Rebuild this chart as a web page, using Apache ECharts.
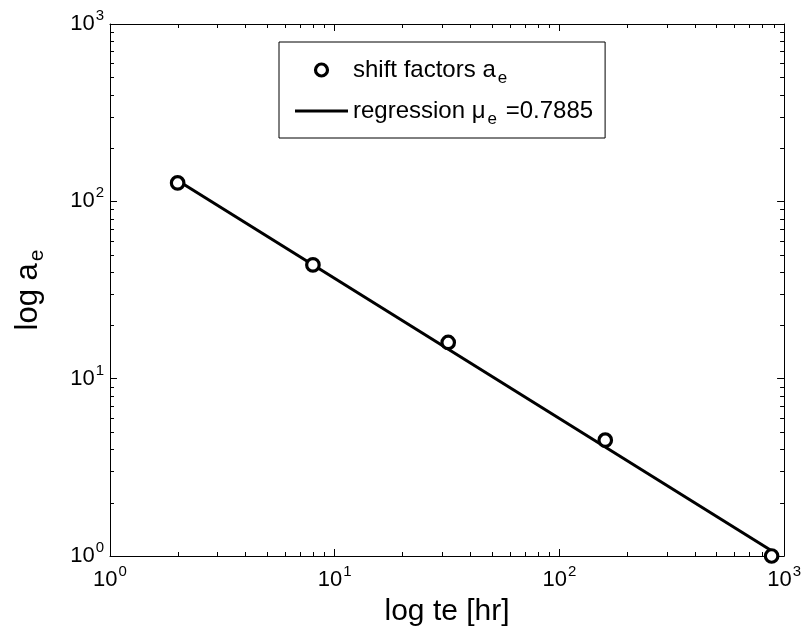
<!DOCTYPE html>
<html>
<head>
<meta charset="utf-8">
<script src="https://cdn.jsdelivr.net/npm/echarts@6/dist/echarts.min.js"></script>
<style>
html,body{margin:0;padding:0;background:#fff;}
#chart{width:804px;height:635px;}
</style>
</head>
<body>
<div id="chart"></div>
<script>
// ---- data ----
const teHours = [2, 8, 32, 160, 880];
const shiftFactors = [127, 43.8, 16.0, 4.5, 1.0];
const regressionX = [2, 880];
const regressionY = [131, 1.07];
const muE = '0.7885';
const xMinorTicks = [2,3,4,5,6,7,8,9,20,30,40,50,60,70,80,90,200,300,400,500,600,700,800,900];
const yMinorTicks = [2,3,4,5,6,7,8,9,20,30,40,50,60,70,80,90,200,300,400,500,600,700,800,900];
const axisMin = 1, axisMax = 1000;

const FONT = '"Liberation Sans", Arial, Helvetica, sans-serif';
const chart = echarts.init(document.getElementById('chart'), null, {renderer: 'canvas'});

const tickRich = {
  b: {fontSize: 22, fontFamily: FONT, color: '#000'},
  s: {fontSize: 15, fontFamily: FONT, color: '#000', padding: [0, 0, 16, 1]}
};
function powLabel(v) {
  const e = Math.round(Math.log10(v));
  return '{b|10}{s|' + e + '}';
}

function minorTickSeries(values, isX) {
  return {
    type: 'custom',
    silent: true,
    clip: false,
    legendHoverLink: false,
    data: values.map(v => [v]),
    renderItem: function (params, api) {
      const cs = params.coordSys;
      const v = api.value(0);
      const len = 4;
      const style = {stroke: '#000', lineWidth: 1};
      if (isX) {
        const px = Math.round(api.coord([v, 1])[0]) + 0.5;
        return {type: 'group', children: [
          {type: 'line', shape: {x1: px, y1: cs.y + cs.height, x2: px, y2: cs.y + cs.height - len}, style: style},
          {type: 'line', shape: {x1: px, y1: cs.y, x2: px, y2: cs.y + len}, style: style}
        ]};
      } else {
        const py = Math.round(api.coord([1, v])[1]) + 0.5;
        return {type: 'group', children: [
          {type: 'line', shape: {x1: cs.x, y1: py, x2: cs.x + len, y2: py}, style: style},
          {type: 'line', shape: {x1: cs.x + cs.width, y1: py, x2: cs.x + cs.width - len, y2: py}, style: style}
        ]};
      }
    }
  };
}

const axisCommon = {
  type: 'log',
  logBase: 10,
  min: axisMin,
  max: axisMax,
  interval: 1,
  splitLine: {show: false},
  axisLine: {show: true, onZero: false, lineStyle: {color: '#000', width: 1}},
  axisTick: {show: true, inside: true, length: 7, lineStyle: {color: '#000', width: 1}}
};

const option = {
  backgroundColor: '#fff',
  animation: false,
  grid: {left: 107, right: 18, top: 24, bottom: 79, containLabel: false},
  legend: {
    left: 279,
    top: 42,
    orient: 'vertical',
    backgroundColor: '#fff',
    borderColor: '#000',
    borderWidth: 1,
    borderRadius: 0,
    padding: [11, 12, 10, 16],
    itemGap: 7,
    itemWidth: 53,
    itemHeight: 12,
    data: [
      {name: 'shift', icon: 'circle', itemStyle: {color: '#fff', borderColor: '#000', borderWidth: 3.2}},
      {name: 'regression', icon: 'path://M0 0H100V5.6H0Z', itemStyle: {color: '#000', borderWidth: 0}}
    ],
    formatter: function (name) {
      return name === 'shift' ? 'shift factors a{sub|e}' : 'regression \u03bc{sub|e} =' + muE;
    },
    textStyle: {
      fontSize: 24, fontFamily: FONT, color: '#000', lineHeight: 34,
      rich: {sub: {fontSize: 17, fontFamily: FONT, color: '#000', lineHeight: 14, verticalAlign: 'bottom', padding: [0, 2, 0, 2]}}
    }
  },
  xAxis: [
    Object.assign({}, axisCommon, {
      position: 'bottom',
      name: 'log te [hr]',
      nameLocation: 'middle',
      nameGap: 41,
      nameTextStyle: {fontSize: 30, fontFamily: FONT, color: '#000'},
      axisLabel: {margin: 8, formatter: powLabel, rich: tickRich}
    }),
    Object.assign({}, axisCommon, {position: 'top', axisLabel: {show: false}})
  ],
  yAxis: [
    Object.assign({}, axisCommon, {
      position: 'left',
      name: 'log a{sub|e}',
      nameLocation: 'middle',
      nameGap: 62,
      nameRotate: 90,
      nameTextStyle: {fontSize: 31, fontFamily: FONT, color: '#000', lineHeight: 40,
        rich: {sub: {fontSize: 21, fontFamily: FONT, color: '#000', lineHeight: 14, verticalAlign: 'bottom', padding: [0, 0, 0, 2]}}},
      axisLabel: {margin: 6, formatter: powLabel, rich: tickRich}
    }),
    Object.assign({}, axisCommon, {position: 'right', axisLabel: {show: false}})
  ],
  series: [
    {
      name: 'regression',
      type: 'line',
      xAxisIndex: 0, yAxisIndex: 0,
      symbol: 'none',
      showSymbol: false,
      lineStyle: {color: '#000', width: 3},
      itemStyle: {color: '#000'},
      data: regressionX.map((x, i) => [x, regressionY[i]]),
      z: 3
    },
    {
      name: 'shift',
      type: 'scatter',
      xAxisIndex: 0, yAxisIndex: 0,
      symbol: 'circle',
      symbolSize: 12.5,
      itemStyle: {color: '#fff', borderColor: '#000', borderWidth: 3.2, opacity: 1},
      data: teHours.map((x, i) => [x, shiftFactors[i]]),
      clip: false,
      z: 4
    },
    minorTickSeries(xMinorTicks, true),
    minorTickSeries(yMinorTicks, false)
  ]
};
chart.setOption(option);
</script>
</body>
</html>
